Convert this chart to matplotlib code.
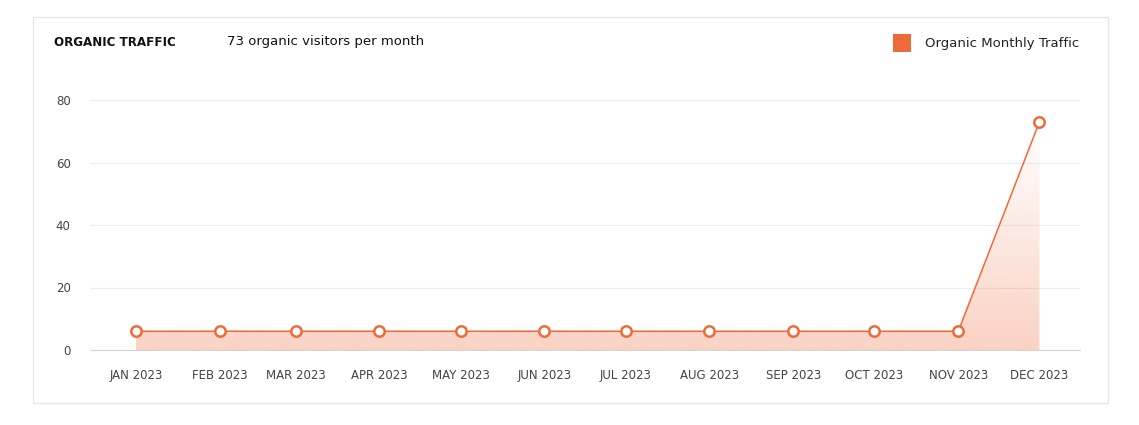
import matplotlib
matplotlib.use("Agg")
import matplotlib.pyplot as plt
import matplotlib.dates as mdates
from matplotlib.patches import Rectangle, Polygon
import numpy as np
import datetime as dt

months = ["JAN 2023","FEB 2023","MAR 2023","APR 2023","MAY 2023","JUN 2023",
          "JUL 2023","AUG 2023","SEP 2023","OCT 2023","NOV 2023","DEC 2023"]
traffic = [6, 6, 6, 6, 6, 6, 6, 6, 6, 6, 6, 73]
yticks = [0, 20, 40, 60, 80]

W, H = 1139, 425
fig = plt.figure(figsize=(W/100, H/100), dpi=100)
fig.patch.set_facecolor("white")
fig.patches.append(Rectangle((33/W, 1-403/H), (1108-33)/W, (403-17)/H,
                             transform=fig.transFigure, fill=False,
                             edgecolor="#e6e6e6", lw=1))

ax = fig.add_axes([90/W, 1-350/H, (1080-90)/W, 250/H])
dates = [dt.date(2023, i+1, 1) for i in range(12)]
x = mdates.date2num(dates)
orange = "#ee6a3a"

ax.set_xlim(x[0]-17, x[-1]+15)
ax.set_ylim(0, 80)

grad = np.ones((256, 1, 4))
grad[..., 0] = 0xee/255; grad[..., 1] = 0x6a/255; grad[..., 2] = 0x3a/255
grad[:, 0, 3] = np.linspace(0.0, 0.30, 256)  # top -> bottom
im = ax.imshow(grad, aspect="auto", extent=[x[0], x[-1], 0, max(traffic)],
               origin="upper", zorder=1)
poly = Polygon(list(zip(x, traffic)) + [(x[-1], 0), (x[0], 0)], closed=True,
               transform=ax.transData, facecolor="none", edgecolor="none")
ax.add_patch(poly)
im.set_clip_path(poly)

ax.plot(x, traffic, color=orange, lw=1.1, marker="o", markersize=7.5,
        markerfacecolor="white", markeredgecolor=orange, markeredgewidth=1.8, zorder=3,
        clip_on=False)

ax.set_yticks(yticks)
ax.set_xticks(x)
ax.set_xticklabels(months)
ax.tick_params(axis="both", length=0, labelsize=8.5, colors="#444444")
ax.tick_params(axis="x", pad=14)
ax.tick_params(axis="y", pad=14)
ax.grid(axis="y", color="#ececec", lw=0.8)
ax.set_axisbelow(True)
for s in ["top", "right", "left"]:
    ax.spines[s].set_visible(False)
ax.spines["bottom"].set_color("#d5d5d5")

fig.text(54/W, 1-42/H, "ORGANIC TRAFFIC", fontsize=9.5, fontweight="bold",
         color="#111111", va="center", fontstretch="condensed")
fig.text(227/W, 1-42/H, "73 organic visitors per month", fontsize=9.5,
         color="#111111", va="center")
fig.patches.append(Rectangle((893/W, 1-52/H), 18/W, 18/H, transform=fig.transFigure,
                             facecolor=orange, edgecolor="none"))
fig.text(925/W, 1-43/H, "Organic Monthly Traffic", fontsize=9.5,
         color="#222222", va="center")

fig.savefig("out.png", dpi=100)
